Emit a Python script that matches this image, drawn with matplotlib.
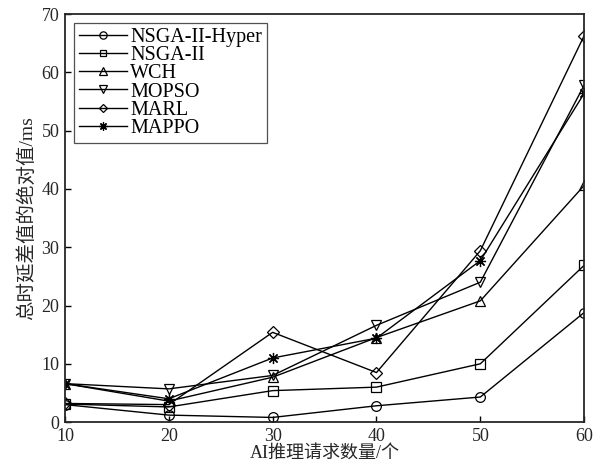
import matplotlib
matplotlib.use("Agg")
import matplotlib.pyplot as plt

plt.rcParams['font.family'] = ['Liberation Serif', 'Noto Sans CJK SC']

x = [10, 20, 30, 40, 50, 60]
labels = ['NSGA-II-Hyper', 'NSGA-II', 'WCH', 'MOPSO', 'MARL', 'MAPPO']
nsga_hyper = [3.0, 1.2, 0.8, 2.8, 4.3, 18.8]
nsga2 = [3.1, 2.6, 5.4, 6.0, 10.0, 26.9]
wch = [6.6, 3.6, 7.7, 14.5, 20.8, 40.6]
mopso = [6.6, 5.7, 8.0, 16.6, 24.0, 57.8]
marl = [3.2, 3.0, 15.4, 8.5, 29.4, 66.3]
mappo = [6.6, 4.0, 11.0, 14.4, 27.7, 56.4]
markers = ['o', 's', '^', 'v', 'D', (8, 2, 0)]
sizes = [7, 6.5, 7.5, 7.5, 6, 8]
series = [nsga_hyper, nsga2, wch, mopso, marl, mappo]

fig = plt.figure(figsize=(6.01, 4.69), dpi=100)
ax = fig.add_axes([0.108, 0.100, 0.864, 0.870])
for s, m, ms, l in zip(series, markers, sizes, labels):
    ax.plot(x, s, color='black', lw=1.0, marker=m, markersize=ms,
            markerfacecolor='none', markeredgecolor='black', markeredgewidth=0.9, label=l)

ax.set_xlim(10, 60)
ax.set_ylim(0, 70)
ax.set_xticks(x)
ax.set_yticks(range(0, 71, 10))
ax.tick_params(direction='in', labelsize=13, length=4, width=1,
               labelcolor='#262626', pad=4)
for sp in ax.spines.values():
    sp.set_linewidth(1.3)
    sp.set_color('#262626')
ax.set_xlabel('AI推理请求数量/个', fontsize=13, labelpad=0, color='#262626')
ax.set_ylabel('总时延差值的绝对值/ms', fontsize=14, labelpad=4, color='#262626')
leg = ax.legend(loc='upper left', fontsize=14.5, frameon=True, fancybox=False,
                edgecolor='#262626', labelspacing=-0.05, handlelength=2.4,
                handletextpad=0.15, borderpad=0.25, borderaxespad=0.45,
                markerscale=0.75)
leg.get_frame().set_linewidth(0.9)
fig.savefig('out.png', dpi=100)
